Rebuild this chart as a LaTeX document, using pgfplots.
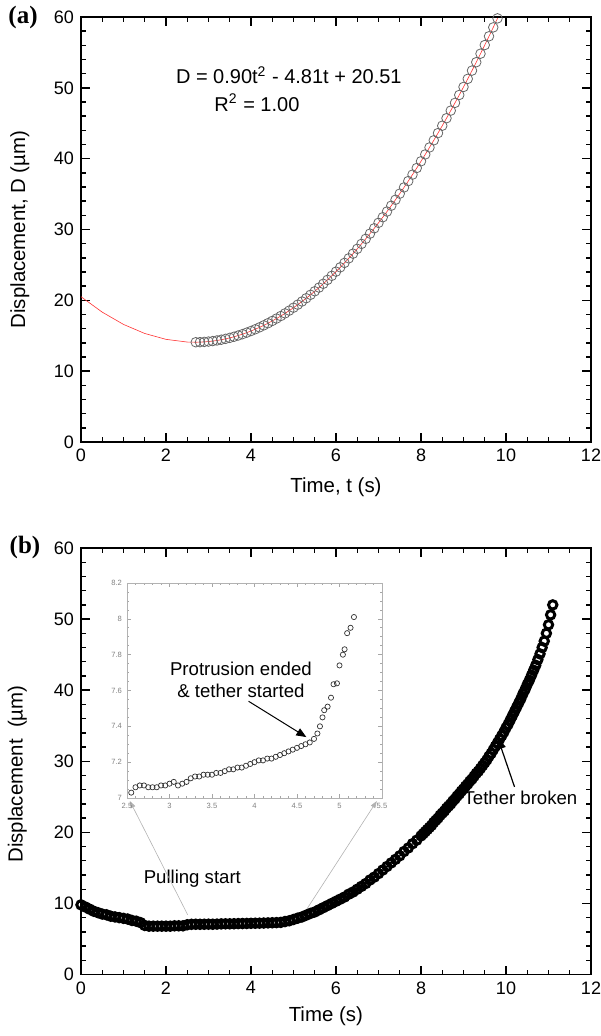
\documentclass[border=0pt]{standalone}
\usepackage{fontspec}
\setmainfont{Liberation Sans}
\newfontfamily\serifbold{Liberation Serif}
\usepackage{pgfplots}
\usepackage{pgfplotstable}
\pgfplotsset{compat=1.18}
\usetikzlibrary{arrows.meta}

% panel (a): measured points, which sit on the fitted parabola
\pgfplotstableread{
t D
2.7 14.084
2.8 14.098
2.9 14.130
3.0 14.180
3.1 14.248
3.2 14.334
3.3 14.438
3.4 14.560
3.5 14.700
3.6 14.858
3.7 15.034
3.8 15.228
3.9 15.440
4.0 15.670
4.1 15.918
4.2 16.184
4.3 16.468
4.4 16.770
4.5 17.090
4.6 17.428
4.7 17.784
4.8 18.158
4.9 18.550
5.0 18.960
5.1 19.388
5.2 19.834
5.3 20.298
5.4 20.780
5.5 21.280
5.6 21.798
5.7 22.334
5.8 22.888
5.9 23.460
6.0 24.050
6.1 24.658
6.2 25.284
6.3 25.928
6.4 26.590
6.5 27.270
6.6 27.968
6.7 28.684
6.8 29.418
6.9 30.170
7.0 30.940
7.1 31.728
7.2 32.534
7.3 33.358
7.4 34.200
7.5 35.060
7.6 35.938
7.7 36.834
7.8 37.748
7.9 38.680
8.0 39.630
8.1 40.598
8.2 41.584
8.3 42.588
8.4 43.610
8.5 44.650
8.6 45.708
8.7 46.784
8.8 47.878
8.9 48.990
9.0 50.120
9.1 51.268
9.2 52.434
9.3 53.618
9.4 54.820
9.5 56.040
9.6 57.278
9.7 58.534
9.8 59.808
}\dataA

% panel (b): whole run
\pgfplotstableread{
t D
0.0 9.8
0.1 9.5
0.2 9.2
0.3 8.9
0.4 8.7
0.5 8.5
0.6 8.4
0.7 8.2
0.8 8.1
0.9 8.0
1.0 7.9
1.1 7.8
1.2 7.6
1.3 7.5
1.4 7.3
1.5 6.9
1.6 6.8
1.7 6.8
1.8 6.8
1.9 6.8
2.0 6.8
2.1 6.8
2.2 6.85
2.3 6.85
2.4 6.85
2.5 7.0
2.6 7.06
2.7 7.07
2.8 7.06
2.9 7.07
3.0 7.08
3.1 7.07
3.2 7.09
3.3 7.12
3.4 7.13
3.5 7.13
3.6 7.14
3.7 7.16
3.8 7.17
3.9 7.18
4.0 7.20
4.1 7.21
4.2 7.22
4.3 7.24
4.4 7.26
4.5 7.28
4.6 7.30
4.7 7.33
4.8 7.45
4.9 7.56
5.0 7.74
5.1 7.93
5.2 8.1
5.3 8.35
5.4 8.6
5.5 8.8
5.6 9.1
5.7 9.4
5.8 9.7
5.9 10.0
6.0 10.3
6.1 10.6
6.2 10.9
6.3 11.3
6.4 11.6
6.5 12.0
6.6 12.4
6.7 12.8
6.8 13.3
6.9 13.7
7.0 14.2
7.1 14.7
7.2 15.2
7.3 15.7
7.4 16.2
7.5 16.7
7.6 17.3
7.7 17.8
7.8 18.4
7.9 18.9
8.00 19.5
8.05 19.8
8.10 20.1
8.15 20.4
8.20 20.7
8.25 21.0
8.30 21.4
8.35 21.7
8.40 22.0
8.45 22.4
8.50 22.7
8.55 23.0
8.60 23.4
8.65 23.7
8.70 24.0
8.75 24.4
8.80 24.7
8.85 25.1
8.90 25.4
8.95 25.8
9.00 26.1
9.05 26.5
9.10 26.8
9.15 27.2
9.20 27.5
9.25 27.9
9.30 28.3
9.35 28.6
9.40 29.0
9.45 29.4
9.50 29.8
9.55 30.2
9.60 30.7
9.65 31.1
9.70 31.6
9.75 32.1
9.80 32.6
9.85 33.1
9.90 33.6
9.95 34.1
10.00 34.7
10.05 35.2
10.10 35.8
10.15 36.4
10.20 37.0
10.25 37.6
10.30 38.2
10.35 38.8
10.40 39.5
10.45 40.1
10.50 40.8
10.55 41.4
10.60 42.1
10.65 42.8
10.70 43.5
10.75 44.3
10.80 45.1
10.85 46.0
10.90 46.9
10.95 48.0
11.00 49.2
11.05 50.6
11.10 52.0
}\dataB

% inset: zoom on the plateau
\pgfplotstableread{
t D
2.55 7.03
2.60 7.06
2.65 7.07
2.70 7.07
2.75 7.06
2.80 7.06
2.85 7.06
2.90 7.07
2.95 7.07
3.00 7.08
3.05 7.09
3.10 7.07
3.15 7.08
3.20 7.09
3.25 7.11
3.30 7.12
3.35 7.12
3.40 7.13
3.45 7.13
3.50 7.13
3.55 7.14
3.60 7.14
3.65 7.15
3.70 7.16
3.75 7.16
3.80 7.17
3.85 7.17
3.90 7.18
3.95 7.19
4.00 7.20
4.05 7.21
4.10 7.21
4.15 7.22
4.20 7.22
4.25 7.23
4.30 7.24
4.35 7.25
4.40 7.26
4.45 7.27
4.50 7.28
4.55 7.29
4.60 7.30
4.65 7.31
4.70 7.33
4.74 7.36
4.77 7.40
4.80 7.45
4.82 7.49
4.86 7.51
4.90 7.56
4.93 7.635
4.97 7.64
5.00 7.74
5.04 7.80
5.06 7.83
5.09 7.92
5.13 7.95
5.17 8.01
}\dataC

\pgfplotsset{
  panel/.style={
    scale only axis, width=255pt, anchor=south west,
    xmin=0, xmax=12, ymin=0, ymax=60,
    xtick={0,2,...,12}, ytick={0,10,...,60},
    minor x tick num=3, minor y tick num=4,
    tick align=inside,
    major tick length=4.5pt, minor tick length=2.5pt,
    every tick/.style={black, line width=0.7pt},
    axis line style={line width=0.8pt},
    ticklabel style={font=\fontsize{9}{10}\selectfont},
    /pgf/number format/assume math mode=true,
    label style={font=\fontsize{10.2}{12}\selectfont},
  },
}

\begin{document}
\begin{tikzpicture}
\path[use as bounding box] (-40.5pt,-297pt) rectangle (259.5pt,221pt);

% ---------- (a) ----------
\begin{axis}[panel, at={(0pt,0pt)}, height=212.5pt, clip=false,
    xlabel={Time, t (s)},
    ylabel={Displacement, D (µm)},
    xlabel style={at={(axis description cs:0.5,-0.106)}, anchor=center},
    ylabel style={at={(axis description cs:-0.12,0.5)}, anchor=center},
]
\addplot[only marks, mark=o, mark size=2.4pt,
         mark options={draw=black!60, line width=0.4pt}] table {\dataA};
\addplot[red!80, line width=0.3pt] coordinates
    {(0,20.51)(0.5,18.33)(1,16.60)(1.5,15.32)(2,14.49)(2.5,14.11)(2.7,14.084)};
\addplot[red!80, line width=0.3pt] table {\dataA};
\node[font=\fontsize{10}{12}\selectfont] at (axis cs:4.89,51.8)
    {D = 0.90t\textsuperscript{2} - 4.81t + 20.51};
\node[font=\fontsize{10}{12}\selectfont] at (axis cs:4.14,47.9)
    {R\textsuperscript{2} = 1.00};
\end{axis}

% ---------- (b) ----------
\begin{axis}[panel, at={(0pt,-266.25pt)}, height=213.25pt,
    xlabel={Time (s)},
    ylabel={Displacement\ \ (µm)},
    xlabel style={at={(axis description cs:0.48,-0.0985)}, anchor=center},
    ylabel style={at={(axis description cs:-0.125,0.47)}, anchor=center},
]
\addplot[only marks, mark=o, mark size=2.1pt,
         mark options={draw=black, line width=1.5pt}] table {\dataB};
\node[font=\fontsize{9.3}{11}\selectfont] at (axis cs:2.62,13.5) {Pulling start};
\node[font=\fontsize{9.3}{11}\selectfont] at (axis cs:10.34,24.8) {Tether broken};
\draw[-{Triangle[length=6pt,width=4.5pt]}, line width=0.6pt]
    (axis cs:10.2,26.4) -- (axis cs:9.8,33.4);
\draw[gray!60, line width=0.3pt, -{Triangle[length=3.5pt,width=2.5pt]}]
    (axis cs:2.51,8.4) -- (axis cs:1.15,24.4);
\draw[gray!60, line width=0.3pt, -{Triangle[length=3.5pt,width=2.5pt]}]
    (axis cs:5.27,8.8) -- (axis cs:6.96,24.4);
\end{axis}

% ---------- inset ----------
\begin{axis}[at={(23pt,-178pt)}, anchor=south west, scale only axis,
    width=127.5pt, height=107.5pt,
    xmin=2.5, xmax=5.5, ymin=7, ymax=8.2,
    xtick={2.5,3,3.5,4,4.5,5,5.5}, ytick={7,7.2,7.4,7.6,7.8,8,8.2},
    minor x tick num=4, minor y tick num=3,
    tick align=inside, major tick length=2pt, minor tick length=1pt,
    every tick/.style={gray!70, line width=0.3pt},
    axis line style={gray!60, line width=0.4pt},
    axis background/.style={fill=white},
    ticklabel style={font=\fontsize{3.8}{4}\selectfont, text=gray},
    xticklabel style={yshift=1pt}, yticklabel style={xshift=1pt},
    /pgf/number format/assume math mode=true,
    /pgf/number format/fixed,
]
\addplot[only marks, mark=o, mark size=1.3pt,
         mark options={draw=black!80, line width=0.35pt}] table {\dataC};
\node[font=\fontsize{9.3}{11}\selectfont, align=center] at (axis cs:3.84,7.66)
    {Protrusion ended\\\& tether started};
\draw[-{Triangle[length=5pt,width=4pt]}, line width=0.5pt]
    (axis cs:3.93,7.54) -- (axis cs:4.61,7.34);
\end{axis}

\node[font=\serifbold\bfseries\fontsize{12.5}{14}\selectfont] at (-29pt,212pt) {(a)};
\node[font=\serifbold\bfseries\fontsize{12.5}{14}\selectfont] at (-28pt,-52.5pt) {(b)};
\end{tikzpicture}
\end{document}
